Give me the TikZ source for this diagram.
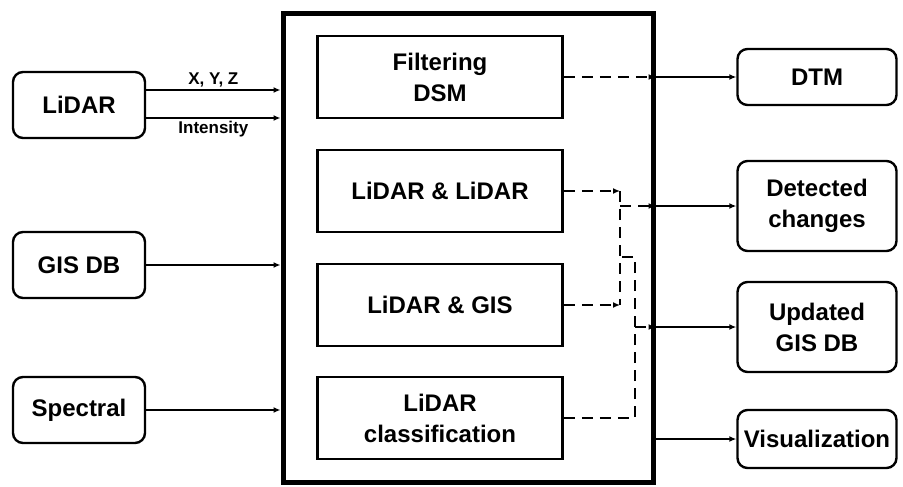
\documentclass[tikz,border=0pt]{standalone}
\usepackage{fontspec}
\setmainfont{Liberation Sans}
\usetikzlibrary{arrows.meta}

\begin{document}
\begin{tikzpicture}[x=1pt, y=-1pt, line width=2.4pt, >={Latex[length=7pt,width=6pt]},
    font=\fontsize{24}{31}\selectfont\bfseries,
    src/.style = {draw, rounded corners=10pt, minimum width=132pt, minimum height=66pt},
    result/.style = {draw, rounded corners=10pt, minimum width=159pt, inner sep=3pt, align=center},
    task/.style = {draw, line width=2.8pt, minimum width=245pt, minimum height=82pt, align=center},
    tag/.style = {font=\fontsize{17}{20}\selectfont\bfseries, inner sep=2pt},
    flow/.style = {dash pattern=on 11pt off 7pt}]
    \useasboundingbox (0,0) rectangle (903,487);

    % processing block
    \node[draw, line width=5pt, minimum width=370pt, minimum height=468pt] (core) at (468,248) {};
    \node[task] (filt) at (440,77) {Filtering\\DSM};
    \node[task] (lidlid) at (440,191) {LiDAR \& LiDAR};
    \node[task] (lidgis) at (440,305) {LiDAR \& GIS};
    \node[task] (lidcls) at (440,418) {LiDAR\\classification};

    % inputs
    \node[src] (lidar) at (79,105) {LiDAR};
    \node[src] (gisdb) at (79,265) {GIS DB};
    \node[src] (spec) at (79,410) {Spectral};

    % outputs
    \node[result, minimum height=56pt] (dtm) at (817,77) {DTM};
    \node[result, minimum height=90pt] (detect) at (817,206) {Detected\\changes};
    \node[result, minimum height=90pt] (upd) at (817,327) {Updated\\GIS DB};
    \node[result, minimum height=58pt] (vis) at (817,439) {Visualization};

    \coordinate (xyz) at ([yshift=15pt]lidar.east);
    \coordinate (inty) at ([yshift=-13pt]lidar.east);
    \coordinate (busa) at (620,0);
    \coordinate (busb) at (635,0);
    \coordinate (hook) at (620,257);

    \draw[->] (xyz) -- node[tag, above] {X, Y, Z} (xyz -| core.west);
    \draw[->] (inty) -- node[tag, below] {Intensity} (inty -| core.west);
    \draw[->] (gisdb.east) -- (gisdb.east -| core.west);
    \draw[->] (spec.east) -- (spec.east -| core.west);

    \draw[flow, ->] (filt.east) -- (filt.east -| core.east);
    \draw[flow, ->] (lidlid.east) -- (lidlid.east -| busa);
    \draw[flow, ->] (lidgis.east) -- (lidgis.east -| busa);
    \draw[flow] (lidlid.east -| busa) -- (lidgis.east -| busa);
    \draw[flow, ->] (detect.west -| busa) -- (detect.west -| core.east);
    \draw[flow] (lidcls.east) -| (hook -| busb) -- (hook);
    \draw[flow, ->] (upd.west -| busb) -- (upd.west -| core.east);

    \draw[->] (dtm.west -| core.east) -- (dtm.west);
    \draw[->] (detect.west -| core.east) -- (detect.west);
    \draw[->] (upd.west -| core.east) -- (upd.west);
    \draw[->] (vis.west -| core.east) -- (vis.west);

    \end{tikzpicture}
\end{document}
